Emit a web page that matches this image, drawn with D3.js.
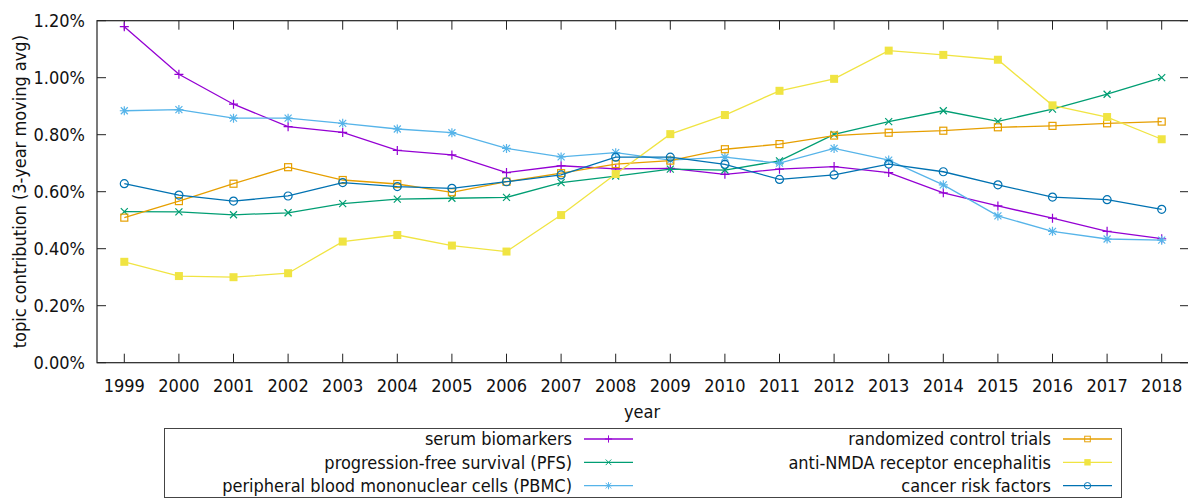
<!DOCTYPE html>
<html><head><meta charset="utf-8">
<script src="https://cdn.jsdelivr.net/npm/d3@7"></script>
<style>
html,body{margin:0;padding:0;background:#fff;}
svg{display:block;font-family:"DejaVu Sans Condensed","DejaVu Sans",sans-serif;font-stretch:condensed;}
</style></head>
<body>
<svg id="chart" width="1188" height="498"></svg>
<script>
const years = [1999,2000,2001,2002,2003,2004,2005,2006,2007,2008,2009,2010,2011,2012,2013,2014,2015,2016,2017,2018];
const yTicks = [0,0.2,0.4,0.6,0.8,1.0,1.2];
const serumBiomarkers = [1.179,1.012,0.907,0.828,0.808,0.745,0.729,0.667,0.691,0.680,0.682,0.661,0.679,0.688,0.667,0.596,0.550,0.507,0.461,0.435];
const pfs = [0.530,0.529,0.519,0.526,0.558,0.574,0.577,0.580,0.632,0.655,0.679,0.676,0.708,0.801,0.846,0.884,0.847,0.890,0.942,1.000];
const pbmc = [0.884,0.888,0.858,0.858,0.840,0.820,0.807,0.752,0.722,0.737,0.711,0.721,0.700,0.752,0.711,0.624,0.515,0.461,0.434,0.430];
const rct = [0.509,0.567,0.628,0.686,0.641,0.627,0.598,0.635,0.665,0.697,0.709,0.749,0.767,0.797,0.807,0.814,0.826,0.831,0.840,0.846];
const antiNmda = [0.354,0.304,0.300,0.314,0.425,0.448,0.411,0.390,0.518,0.662,0.802,0.869,0.954,0.996,1.095,1.080,1.063,0.903,0.862,0.784];
const cancerRisk = [0.628,0.588,0.567,0.585,0.632,0.618,0.612,0.635,0.659,0.721,0.721,0.696,0.643,0.659,0.697,0.670,0.624,0.581,0.572,0.538];
const seriesNames = ["serum biomarkers","progression-free survival (PFS)","peripheral blood mononuclear cells (PBMC)","randomized control trials","anti-NMDA receptor encephalitis","cancer risk factors"];

const series = [
  {name: seriesNames[0], values: serumBiomarkers, color: "#9400d3", marker: "plus"},
  {name: seriesNames[1], values: pfs, color: "#009e73", marker: "cross"},
  {name: seriesNames[2], values: pbmc, color: "#56b4e9", marker: "star"},
  {name: seriesNames[3], values: rct, color: "#e69f00", marker: "osquare"},
  {name: seriesNames[4], values: antiNmda, color: "#f0e442", marker: "fsquare"},
  {name: seriesNames[5], values: cancerRisk, color: "#0072b2", marker: "ocircle"}
];

const FS = 18;
const L = 97, R = 1189, T = 20.7, B = 362.7;
const svg = d3.select("#chart");
const x = d3.scaleLinear().domain([1998.5, 2018.5]).range([L, R]);
const y = d3.scaleLinear().domain([0, 1.2]).range([B, T]);

const tickLen = 9;
const g = svg.append("g");
yTicks.forEach(v => {
  g.append("line").attr("x1", L).attr("x2", L + tickLen).attr("y1", y(v)).attr("y2", y(v)).attr("stroke", "#222");
  g.append("line").attr("x1", R - tickLen).attr("x2", R).attr("y1", y(v)).attr("y2", y(v)).attr("stroke", "#222");
  g.append("text").attr("x", 85).attr("y", y(v)).attr("dy", "0.36em").attr("text-anchor", "end")
    .attr("font-size", FS).attr("fill", "#111").text(v.toFixed(2) + "%");
});
years.forEach(yr => {
  g.append("line").attr("x1", x(yr)).attr("x2", x(yr)).attr("y1", B).attr("y2", B - tickLen).attr("stroke", "#222");
  g.append("line").attr("x1", x(yr)).attr("x2", x(yr)).attr("y1", T).attr("y2", T + tickLen).attr("stroke", "#222");
  g.append("text").attr("x", x(yr)).attr("y", 391.5).attr("text-anchor", "middle")
    .attr("font-size", FS).attr("fill", "#111").text(yr);
});
svg.append("rect").attr("x", L).attr("y", T).attr("width", R - L).attr("height", B - T)
  .attr("fill", "none").attr("stroke", "#222").attr("stroke-width", 1.2);

svg.append("text").attr("x", 642).attr("y", 418).attr("text-anchor", "middle").attr("font-size", FS).attr("fill", "#111").text("year");
svg.append("text").attr("transform", "translate(26," + ((T + B) / 2) + ") rotate(-90)")
  .attr("text-anchor", "middle").attr("font-size", FS).attr("fill", "#111").text("topic contribution (3-year moving avg)");

function drawMarker(sel, type, color) {
  if (type === "plus") sel.append("path").attr("d", "M-4.5,0H4.5M0,-4.5V4.5").attr("stroke", color).attr("stroke-width", 1.2).attr("fill", "none");
  else if (type === "cross") sel.append("path").attr("d", "M-3.5,-3.5L3.5,3.5M-3.5,3.5L3.5,-3.5").attr("stroke", color).attr("stroke-width", 1.2).attr("fill", "none");
  else if (type === "star") sel.append("path").attr("d", "M-4.5,0H4.5M0,-4.5V4.5M-3.5,-3.5L3.5,3.5M-3.5,3.5L3.5,-3.5").attr("stroke", color).attr("stroke-width", 1.2).attr("fill", "none");
  else if (type === "osquare") sel.append("rect").attr("x", -3.5).attr("y", -3.5).attr("width", 7).attr("height", 7).attr("stroke", color).attr("stroke-width", 1.2).attr("fill", "none");
  else if (type === "fsquare") sel.append("rect").attr("x", -4).attr("y", -4).attr("width", 8).attr("height", 8).attr("fill", color);
  else if (type === "ocircle") sel.append("circle").attr("r", 4).attr("stroke", color).attr("stroke-width", 1.2).attr("fill", "none");
}

const line = d3.line().x((d, i) => x(years[i])).y(d => y(d));
series.forEach(s => {
  const sg = svg.append("g");
  sg.append("path").attr("d", line(s.values)).attr("fill", "none").attr("stroke", s.color).attr("stroke-width", 1.3);
  s.values.forEach((v, i) => {
    const m = sg.append("g").attr("transform", "translate(" + x(years[i]) + "," + y(v) + ")");
    drawMarker(m, s.marker, s.color);
  });
});

const lg = svg.append("g");
lg.append("rect").attr("x", 164.5).attr("y", 428.5).attr("width", 957).attr("height", 69).attr("fill", "none").attr("stroke", "#444").attr("stroke-width", 1);
const rowsY = [439, 462.3, 485.7];
const cols = [{textX: 572, x1: 584, x2: 633}, {textX: 1051, x1: 1063, x2: 1112}];
series.forEach((s, i) => {
  const c = cols[Math.floor(i / 3)], ry = rowsY[i % 3];
  lg.append("text").attr("x", c.textX).attr("y", ry).attr("dy", "0.36em").attr("text-anchor", "end").attr("font-size", FS).attr("fill", "#111").text(s.name);
  lg.append("line").attr("x1", c.x1).attr("x2", c.x2).attr("y1", ry).attr("y2", ry).attr("stroke", s.color).attr("stroke-width", 1.3);
  const m = lg.append("g").attr("transform", "translate(" + ((c.x1 + c.x2) / 2) + "," + ry + ") scale(0.8)");
  drawMarker(m, s.marker, s.color);
});
</script>
</body></html>
